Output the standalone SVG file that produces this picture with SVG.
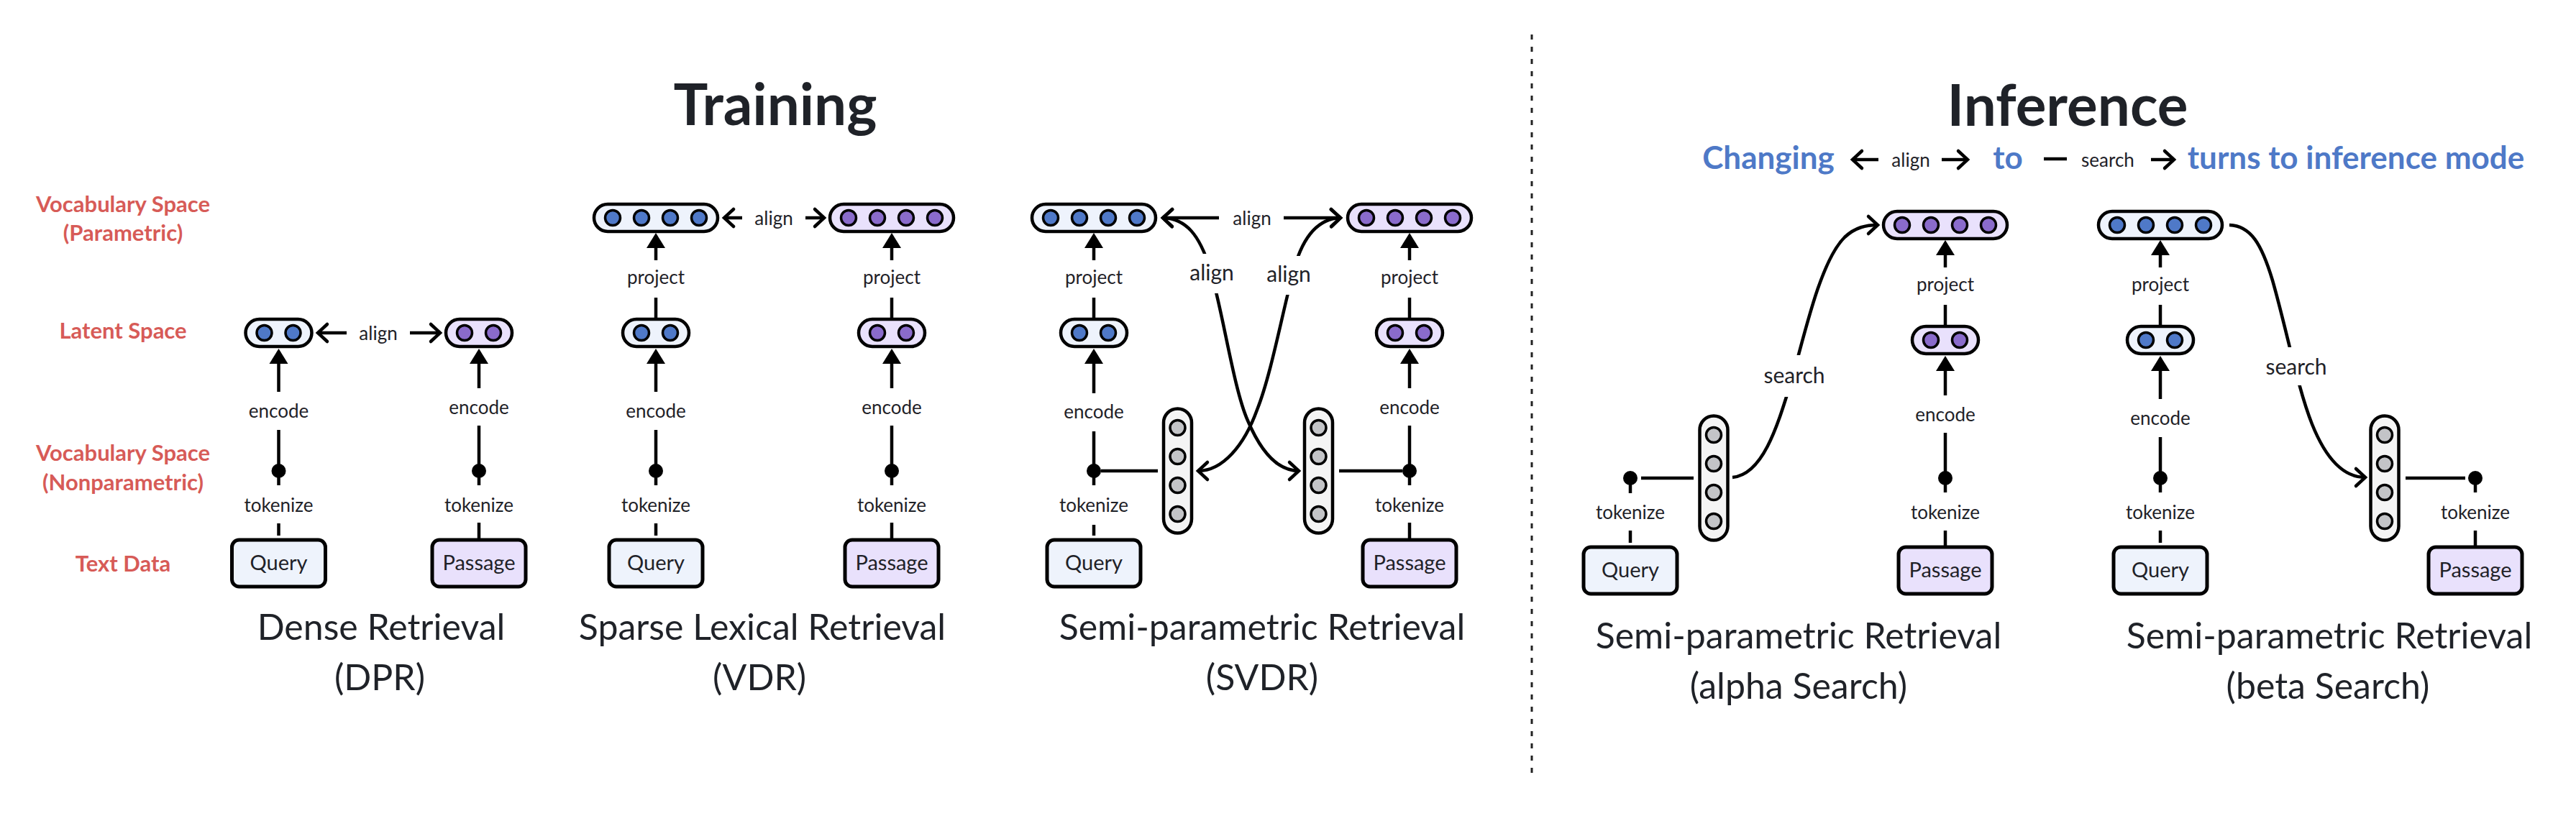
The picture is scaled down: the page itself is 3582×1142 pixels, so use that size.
<svg xmlns="http://www.w3.org/2000/svg" width="3582" height="1142" viewBox="0 0 3582 1142">
<style>
.t{font-family:Lato,"Noto Sans","DejaVu Sans",sans-serif;fill:#1f2228;text-anchor:middle}
.lb{font-size:26px}
.lb2{font-size:30px}
.rd{font-size:31px;font-weight:700;fill:#d75b57}
.ttl{font-size:80px;font-weight:700}
.cap{font-size:50px}
.hd{font-size:44px;font-weight:700;fill:#4e79c7}
.nd{font-size:29px}
.ln{stroke:#000;stroke-width:4.5;fill:none}
.pq{fill:#eef3fc;stroke:#000;stroke-width:4.5}
.pp{fill:#e9e1fc;stroke:#000;stroke-width:4.5}
.pg{fill:#f4f4f4;stroke:#000;stroke-width:4.5}
.cq{fill:#4f79c8;stroke:#000;stroke-width:3.5}
.cp{fill:#8a6bcb;stroke:#000;stroke-width:3.5}
.cg{fill:#c3c4c7;stroke:#000;stroke-width:3.5}
.bq{fill:#eef3fc;stroke:#000;stroke-width:5}
.bp{fill:#e9e1fc;stroke:#000;stroke-width:5}
.dot{fill:#000}
.up{marker-end:url(#tri)}
.ar{marker-end:url(#chev)}
.ar2{marker-end:url(#chev);marker-start:url(#chev)}
.halo{fill:#fff}
</style>
<defs>
<marker id="tri" markerUnits="userSpaceOnUse" viewBox="0 -13 21 26" refX="0" refY="0" markerWidth="21" markerHeight="26" orient="auto" overflow="visible"><path d="M0,-13 L21,0 L0,13 Z" fill="#000"/></marker>
<marker id="chev" markerUnits="userSpaceOnUse" viewBox="-16 -14 20 28" refX="0" refY="0" markerWidth="20" markerHeight="28" orient="auto-start-reverse" overflow="visible"><path d="M-13,-12 L0,0 L-13,12" fill="none" stroke="#000" stroke-width="4.5" stroke-linecap="round"/></marker>
</defs>
<rect width="3582" height="1142" fill="#fff"/>

<!-- titles and labels -->
<g id="titles">
<text class="t ttl" x="1078" y="174">Training</text>
<text class="t ttl" x="2875" y="175">Inference</text>
</g>
<g id="row-labels">
<text class="t rd" x="171" y="295">Vocabulary Space</text>
<text class="t rd" x="171" y="335">(Parametric)</text>
<text class="t rd" x="171" y="471">Latent Space</text>
<text class="t rd" x="171" y="641">Vocabulary Space</text>
<text class="t rd" x="171" y="682">(Nonparametric)</text>
<text class="t rd" x="171" y="795">Text Data</text>
</g>
<g id="legend">
<text class="t hd" x="2459" y="235">Changing</text>
<path class="ln ar" d="M2612,222 H2576"/>
<text class="t lb" x="2657" y="232">align</text>
<path class="ln ar" d="M2700,222 H2736"/>
<text class="t hd" x="2792" y="235">to</text>
<path class="ln" d="M2842,221 H2874"/>
<text class="t lb" x="2931" y="232">search</text>
<path class="ln ar" d="M2991,222 H3023"/>
<text class="t hd" x="3276" y="235">turns to inference mode</text>
</g>
<path id="divider" d="M2130,48 V1076" stroke="#222" stroke-width="3" stroke-dasharray="7 10" fill="none"/>

<!-- connectors -->
<g id="connectors">
<!-- DPR -->
<path class="ln" d="M387.5,745 V728"/>
<path class="ln" d="M387.5,675 V598"/>
<path class="ln up" d="M387.5,545 V506"/>
<path class="ln" d="M666,751 V727"/>
<path class="ln" d="M666,675 V592"/>
<path class="ln up" d="M666,540 V506"/>
<path class="ln ar" d="M482,463 H442"/>
<path class="ln ar" d="M570,463 H612"/>
<!-- VDR -->
<path class="ln" d="M912,745 V728"/>
<path class="ln" d="M912,675 V598"/>
<path class="ln up" d="M912,545 V506"/>
<path class="ln" d="M912,444 V414"/>
<path class="ln up" d="M912,362 V345"/>
<path class="ln" d="M1240,751 V727"/>
<path class="ln" d="M1240,675 V592"/>
<path class="ln up" d="M1240,540 V506"/>
<path class="ln" d="M1240,444 V414"/>
<path class="ln up" d="M1240,362 V345"/>
<path class="ln ar" d="M1032,303 H1007"/>
<path class="ln ar" d="M1120,303 H1146"/>
<!-- SVDR -->
<path class="ln" d="M1521,745 V730"/>
<path class="ln" d="M1521,675 V600"/>
<path class="ln up" d="M1521,547 V506"/>
<path class="ln" d="M1521,444 V414"/>
<path class="ln up" d="M1521,362 V345"/>
<path class="ln" d="M1531,655 H1610"/>
<path class="ln" d="M1960,751 V727"/>
<path class="ln" d="M1960,675 V592"/>
<path class="ln up" d="M1960,540 V506"/>
<path class="ln" d="M1960,444 V414"/>
<path class="ln up" d="M1960,362 V345"/>
<path class="ln" d="M1862,655 H1950"/>
<path class="ln ar" d="M1695,303 H1617"/>
<path class="ln ar" d="M1785,303 H1864"/>
<path class="ln ar2" d="M1617,303 C1650,304 1668,328 1682,372 C1700,430 1715,540 1735,585 C1752,625 1775,655 1806,655"/>
<path class="ln ar2" d="M1864,303 C1832,304 1812,330 1800,372 C1784,430 1768,520 1748,570 C1730,620 1700,655 1666,655"/>
<!-- alpha -->
<path class="ln" d="M2267,755 V738"/>
<path class="ln" d="M2267,686 V665"/>
<path class="ln" d="M2282,665 H2355"/>
<path class="ln ar" d="M2409,664 C2455,660 2475,580 2494,520 C2515,440 2535,360 2565,330 C2580,316 2595,313 2611,313"/>
<path class="ln" d="M2705,761 V738"/>
<path class="ln" d="M2705,685 V602"/>
<path class="ln up" d="M2705,550 V516"/>
<path class="ln" d="M2705,454 V424"/>
<path class="ln up" d="M2705,372 V355"/>
<!-- beta -->
<path class="ln" d="M3004,755 V738"/>
<path class="ln" d="M3004,685 V608"/>
<path class="ln up" d="M3004,555 V516"/>
<path class="ln" d="M3004,454 V424"/>
<path class="ln up" d="M3004,372 V355"/>
<path class="ln ar" d="M3100,313 C3130,314 3145,340 3160,390 C3180,460 3195,540 3215,590 C3235,640 3260,664 3289,664"/>
<path class="ln" d="M3442,761 V738"/>
<path class="ln" d="M3442,685 V665"/>
<path class="ln" d="M3345,665 H3428"/>
</g>

<!-- connector labels -->
<g id="connector-labels">
<text class="t lb" x="387.5" y="581">encode</text>
<text class="t lb" x="387.5" y="712">tokenize</text>
<text class="t lb" x="666" y="576">encode</text>
<text class="t lb" x="666" y="712">tokenize</text>
<text class="t lb" x="526" y="473">align</text>
<text class="t lb" x="912" y="395">project</text>
<text class="t lb" x="912" y="581">encode</text>
<text class="t lb" x="912" y="712">tokenize</text>
<text class="t lb" x="1240" y="395">project</text>
<text class="t lb" x="1240" y="576">encode</text>
<text class="t lb" x="1240" y="712">tokenize</text>
<text class="t lb" x="1076" y="313">align</text>
<text class="t lb" x="1521" y="395">project</text>
<text class="t lb" x="1521" y="582">encode</text>
<text class="t lb" x="1521" y="712">tokenize</text>
<text class="t lb" x="1960" y="395">project</text>
<text class="t lb" x="1960" y="576">encode</text>
<text class="t lb" x="1960" y="712">tokenize</text>
<text class="t lb" x="1741" y="313">align</text>
<rect class="halo" x="1648" y="353" width="72" height="55"/>
<text class="t lb2" x="1685" y="390">align</text>
<rect class="halo" x="1756" y="356" width="72" height="54"/>
<text class="t lb2" x="1792" y="392">align</text>
<text class="t lb" x="2267" y="722">tokenize</text>
<rect class="halo" x="2450" y="494" width="90" height="58"/>
<text class="t lb2" x="2495" y="533">search</text>
<text class="t lb" x="2705" y="405">project</text>
<text class="t lb" x="2705" y="586">encode</text>
<text class="t lb" x="2705" y="722">tokenize</text>
<text class="t lb" x="3004" y="405">project</text>
<text class="t lb" x="3004" y="591">encode</text>
<text class="t lb" x="3004" y="722">tokenize</text>
<rect class="halo" x="3148" y="483" width="90" height="53"/>
<text class="t lb2" x="3193" y="521">search</text>
<text class="t lb" x="3442" y="722">tokenize</text>
</g>

<!-- DPR nodes -->
<g id="dpr-query-latent"><rect class="pq" x="341.5" y="444" width="92" height="38" rx="19"/><circle class="cq" cx="367.5" cy="463" r="10.5"/><circle class="cq" cx="407.5" cy="463" r="10.5"/></g>
<g id="dpr-passage-latent"><rect class="pp" x="620" y="444" width="92" height="38" rx="19"/><circle class="cp" cx="646" cy="463" r="10.5"/><circle class="cp" cx="686" cy="463" r="10.5"/></g>
<g id="dpr-query-token"><circle class="dot" cx="387.5" cy="655" r="10"/></g>
<g id="dpr-passage-token"><circle class="dot" cx="666" cy="655" r="10"/></g>
<g id="dpr-query"><rect class="bq" x="322.5" y="751" width="130" height="65" rx="10"/><text class="t nd" x="387.5" y="793">Query</text></g>
<g id="dpr-passage"><rect class="bp" x="601" y="751" width="130" height="65" rx="10"/><text class="t nd" x="666" y="793">Passage</text></g>

<!-- VDR nodes -->
<g id="vdr-query-vocab"><rect class="pq" x="826" y="284" width="172" height="38" rx="19"/><circle class="cq" cx="852" cy="303" r="10.5"/><circle class="cq" cx="892" cy="303" r="10.5"/><circle class="cq" cx="932" cy="303" r="10.5"/><circle class="cq" cx="972" cy="303" r="10.5"/></g>
<g id="vdr-passage-vocab"><rect class="pp" x="1154" y="284" width="172" height="38" rx="19"/><circle class="cp" cx="1180" cy="303" r="10.5"/><circle class="cp" cx="1220" cy="303" r="10.5"/><circle class="cp" cx="1260" cy="303" r="10.5"/><circle class="cp" cx="1300" cy="303" r="10.5"/></g>
<g id="vdr-query-latent"><rect class="pq" x="866" y="444" width="92" height="38" rx="19"/><circle class="cq" cx="892" cy="463" r="10.5"/><circle class="cq" cx="932" cy="463" r="10.5"/></g>
<g id="vdr-passage-latent"><rect class="pp" x="1194" y="444" width="92" height="38" rx="19"/><circle class="cp" cx="1220" cy="463" r="10.5"/><circle class="cp" cx="1260" cy="463" r="10.5"/></g>
<g id="vdr-query-token"><circle class="dot" cx="912" cy="655" r="10"/></g>
<g id="vdr-passage-token"><circle class="dot" cx="1240" cy="655" r="10"/></g>
<g id="vdr-query"><rect class="bq" x="847" y="751" width="130" height="65" rx="10"/><text class="t nd" x="912" y="793">Query</text></g>
<g id="vdr-passage"><rect class="bp" x="1175" y="751" width="130" height="65" rx="10"/><text class="t nd" x="1240" y="793">Passage</text></g>

<!-- SVDR nodes -->
<g id="svdr-query-vocab"><rect class="pq" x="1435" y="284" width="172" height="38" rx="19"/><circle class="cq" cx="1461" cy="303" r="10.5"/><circle class="cq" cx="1501" cy="303" r="10.5"/><circle class="cq" cx="1541" cy="303" r="10.5"/><circle class="cq" cx="1581" cy="303" r="10.5"/></g>
<g id="svdr-passage-vocab"><rect class="pp" x="1874" y="284" width="172" height="38" rx="19"/><circle class="cp" cx="1900" cy="303" r="10.5"/><circle class="cp" cx="1940" cy="303" r="10.5"/><circle class="cp" cx="1980" cy="303" r="10.5"/><circle class="cp" cx="2020" cy="303" r="10.5"/></g>
<g id="svdr-query-latent"><rect class="pq" x="1475" y="444" width="92" height="38" rx="19"/><circle class="cq" cx="1501" cy="463" r="10.5"/><circle class="cq" cx="1541" cy="463" r="10.5"/></g>
<g id="svdr-passage-latent"><rect class="pp" x="1914" y="444" width="92" height="38" rx="19"/><circle class="cp" cx="1940" cy="463" r="10.5"/><circle class="cp" cx="1980" cy="463" r="10.5"/></g>
<g id="svdr-query-sparse"><rect class="pg" x="1618" y="568.5" width="39" height="173" rx="19.5"/><circle class="cg" cx="1637.5" cy="595" r="10.5"/><circle class="cg" cx="1637.5" cy="635" r="10.5"/><circle class="cg" cx="1637.5" cy="675" r="10.5"/><circle class="cg" cx="1637.5" cy="715" r="10.5"/></g>
<g id="svdr-passage-sparse"><rect class="pg" x="1814" y="568.5" width="39" height="173" rx="19.5"/><circle class="cg" cx="1833.5" cy="595" r="10.5"/><circle class="cg" cx="1833.5" cy="635" r="10.5"/><circle class="cg" cx="1833.5" cy="675" r="10.5"/><circle class="cg" cx="1833.5" cy="715" r="10.5"/></g>
<g id="svdr-query-token"><circle class="dot" cx="1521" cy="655" r="10"/></g>
<g id="svdr-passage-token"><circle class="dot" cx="1960" cy="655" r="10"/></g>
<g id="svdr-query"><rect class="bq" x="1456" y="751" width="130" height="65" rx="10"/><text class="t nd" x="1521" y="793">Query</text></g>
<g id="svdr-passage"><rect class="bp" x="1895" y="751" width="130" height="65" rx="10"/><text class="t nd" x="1960" y="793">Passage</text></g>

<!-- alpha search nodes -->
<g id="alpha-passage-vocab"><rect class="pp" x="2619" y="294" width="172" height="38" rx="19"/><circle class="cp" cx="2645" cy="313" r="10.5"/><circle class="cp" cx="2685" cy="313" r="10.5"/><circle class="cp" cx="2725" cy="313" r="10.5"/><circle class="cp" cx="2765" cy="313" r="10.5"/></g>
<g id="alpha-passage-latent"><rect class="pp" x="2659" y="454" width="92" height="38" rx="19"/><circle class="cp" cx="2685" cy="473" r="10.5"/><circle class="cp" cx="2725" cy="473" r="10.5"/></g>
<g id="alpha-query-sparse"><rect class="pg" x="2363.5" y="578.5" width="39" height="173" rx="19.5"/><circle class="cg" cx="2383" cy="605" r="10.5"/><circle class="cg" cx="2383" cy="645" r="10.5"/><circle class="cg" cx="2383" cy="685" r="10.5"/><circle class="cg" cx="2383" cy="725" r="10.5"/></g>
<g id="alpha-query-token"><circle class="dot" cx="2267" cy="665" r="10"/></g>
<g id="alpha-passage-token"><circle class="dot" cx="2705" cy="665" r="10"/></g>
<g id="alpha-query"><rect class="bq" x="2202" y="761" width="130" height="65" rx="10"/><text class="t nd" x="2267" y="803">Query</text></g>
<g id="alpha-passage"><rect class="bp" x="2640" y="761" width="130" height="65" rx="10"/><text class="t nd" x="2705" y="803">Passage</text></g>

<!-- beta search nodes -->
<g id="beta-query-vocab"><rect class="pq" x="2918" y="294" width="172" height="38" rx="19"/><circle class="cq" cx="2944" cy="313" r="10.5"/><circle class="cq" cx="2984" cy="313" r="10.5"/><circle class="cq" cx="3024" cy="313" r="10.5"/><circle class="cq" cx="3064" cy="313" r="10.5"/></g>
<g id="beta-query-latent"><rect class="pq" x="2958" y="454" width="92" height="38" rx="19"/><circle class="cq" cx="2984" cy="473" r="10.5"/><circle class="cq" cx="3024" cy="473" r="10.5"/></g>
<g id="beta-passage-sparse"><rect class="pg" x="3296.5" y="578.5" width="39" height="173" rx="19.5"/><circle class="cg" cx="3316" cy="605" r="10.5"/><circle class="cg" cx="3316" cy="645" r="10.5"/><circle class="cg" cx="3316" cy="685" r="10.5"/><circle class="cg" cx="3316" cy="725" r="10.5"/></g>
<g id="beta-query-token"><circle class="dot" cx="3004" cy="665" r="10"/></g>
<g id="beta-passage-token"><circle class="dot" cx="3442" cy="665" r="10"/></g>
<g id="beta-query"><rect class="bq" x="2939" y="761" width="130" height="65" rx="10"/><text class="t nd" x="3004" y="803">Query</text></g>
<g id="beta-passage"><rect class="bp" x="3377" y="761" width="130" height="65" rx="10"/><text class="t nd" x="3442" y="803">Passage</text></g>

<!-- captions -->
<g id="captions">
<text class="t cap" x="530" y="890">Dense Retrieval</text>
<text class="t cap" x="528" y="960">(DPR)</text>
<text class="t cap" x="1060" y="890">Sparse Lexical Retrieval</text>
<text class="t cap" x="1056" y="960">(VDR)</text>
<text class="t cap" x="1755" y="890">Semi-parametric Retrieval</text>
<text class="t cap" x="1755" y="960">(SVDR)</text>
<text class="t cap" x="2501" y="902">Semi-parametric Retrieval</text>
<text class="t cap" x="2501" y="972">(alpha Search)</text>
<text class="t cap" x="3239" y="902">Semi-parametric Retrieval</text>
<text class="t cap" x="3237" y="972">(beta Search)</text>
</g>
</svg>
